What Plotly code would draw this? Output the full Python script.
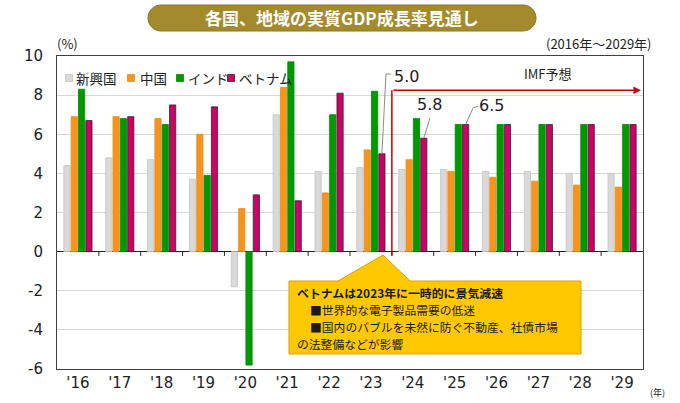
import math
import plotly.graph_objects as go

# ---- data ----
years = ["'16", "'17", "'18", "'19", "'20", "'21", "'22", "'23", "'24", "'25", "'26", "'27", "'28", "'29"]
series_names = ["新興国", "中国", "インド", "ベトナム"]
emerging = [4.4, 4.8, 4.7, 3.7, -1.8, 7.0, 4.1, 4.3, 4.2, 4.2, 4.1, 4.1, 4.0, 4.0]
china = [6.9, 6.9, 6.8, 6.0, 2.2, 8.4, 3.0, 5.2, 4.7, 4.1, 3.8, 3.6, 3.4, 3.3]
india = [8.3, 6.8, 6.5, 3.9, -5.8, 9.7, 7.0, 8.2, 6.8, 6.5, 6.5, 6.5, 6.5, 6.5]
vietnam = [6.7, 6.9, 7.5, 7.4, 2.9, 2.6, 8.1, 5.0, 5.8, 6.5, 6.5, 6.5, 6.5, 6.5]
y_ticks = [10, 8, 6, 4, 2, 0, -2, -4, -6]
labelled_points = [(7, "5.0"), (8, "5.8"), (9, "6.5")]   # (year index, label) for Vietnam
forecast_start = 8   # index of first IMF forecast year
callout_lines = ["ベトナムは2023年に一時的に景気減速",
                 "■世界的な電子製品需要の低迷",
                 "■国内のバブルを未然に防ぐ不動産、社債市場",
                 "の法整備などが影響"]

colors = ["#d9d9d9", "#f7941d", "#009a00", "#cc0066"]
lines = ["#c4c4c4", "#f08a10", "#008800", "#2a2a2a"]
series = [emerging, china, india, vietnam]

# ---- plot area geometry (pixels) ----
L, R, T, B = 57, 643, 56, 369
W, H = R - L, B - T


def px(x):
    return (x - L) / W


def py(y):
    return (B - y) / H


JP = "Noto Sans CJK JP"
NUM = "DejaVu Sans, Noto Sans CJK JP"

xs = list(range(len(years)))
fig = go.Figure()
for name, vals, c, lc in zip(series_names, series, colors, lines):
    fig.add_trace(go.Bar(x=xs, y=vals, name=name, showlegend=False,
                         marker=dict(color=c, line=dict(color=lc, width=0.8))))

shapes = []
annotations = []

# tick marks on the zero line at category boundaries
for k in range(len(years) - 1):
    shapes.append(dict(type="line", xref="x", yref="y", x0=k + 0.5, x1=k + 0.5, y0=0, y1=-0.22,
                       line=dict(color="#222", width=1)))

# title pill
pts = []
r = 13
cyp = 18
for i in range(21):
    a = math.pi / 2 + math.pi * i / 20
    pts.append((148 + r + r * math.cos(a), cyp - r * math.sin(a)))
for i in range(21):
    a = -math.pi / 2 + math.pi * i / 20
    pts.append((536 - r + r * math.cos(a), cyp - r * math.sin(a)))
path = "M " + " L ".join(f"{px(a):.5f},{py(b):.5f}" for a, b in pts) + " Z"
shapes.append(dict(type="path", xref="paper", yref="paper", path=path,
                   fillcolor="#a38a2c", line=dict(color="#8c7622", width=1), layer="above"))
annotations.append(dict(xref="paper", yref="paper", x=px(342), y=py(18), text="<b>各国、地域の実質GDP成長率見通し</b>",
                        showarrow=False, font=dict(family=JP, size=17, color="white"),
                        xanchor="center", yanchor="middle"))

# custom legend: square centre x, text start x
leg_sq = [69, 131, 180, 231]
leg_tx = [74, 138, 186, 237]
for sx, tx, name, c, lc in zip(leg_sq, leg_tx, series_names, colors, lines):
    shapes.append(dict(type="rect", xref="paper", yref="paper", x0=px(sx - 3.5), x1=px(sx + 3.5),
                       y0=py(81.5), y1=py(74.5), fillcolor=c, line=dict(color=lc, width=0.8)))
    annotations.append(dict(xref="paper", yref="paper", x=px(tx), y=py(78), xanchor="left", yanchor="middle",
                            showarrow=False, text=name, font=dict(family=JP, size=13.5, color="#222")))

# axis notes
annotations.append(dict(xref="paper", yref="paper", x=px(67), y=py(44), text="(%)", showarrow=False,
                        font=dict(family=JP, size=13, color="#222"), xanchor="center", yanchor="middle"))
annotations.append(dict(xref="paper", yref="paper", x=px(654), y=py(44), text="(2016年～2029年)", showarrow=False,
                        font=dict(family=JP, size=13, color="#222"), xanchor="right", yanchor="middle"))
annotations.append(dict(xref="paper", yref="paper", x=px(657), y=py(392), text="(年)", showarrow=False,
                        font=dict(family=JP, size=9, color="#222"), xanchor="center", yanchor="middle"))

# IMF forecast arrow
xb = forecast_start - 0.5
yh = 8.25
shapes.append(dict(type="line", xref="x", yref="y", x0=xb, x1=xb, y0=-0.2, y1=yh,
                   line=dict(color="#cc0000", width=1.5)))
annotations.append(dict(xref="x", yref="y", x=13.45, y=yh, ax=xb, ay=yh, axref="x", ayref="y",
                        showarrow=True, arrowhead=2, arrowsize=1, arrowwidth=1.5, arrowcolor="#cc0000", text=""))
annotations.append(dict(xref="paper", yref="paper", x=px(548), y=py(73), text="IMF予想", showarrow=False,
                        font=dict(family=JP, size=13, color="#222"), xanchor="center", yanchor="middle"))

# value labels with leader lines (Vietnam)
off = 0.2625
label_pos = {7: ((7.36, 9.08), (7.48, 9.08), (7.85, 8.93)),
             8: ((8.41, 6.83), (8.41, 6.83), (8.39, 7.50)),
             9: ((9.44, 7.34), (9.56, 7.44), (9.89, 7.45))}
for idx, lab in labelled_points:
    b1, b2, tpos = label_pos[idx]
    shapes.append(dict(type="path", xref="x", yref="y",
                       path=f"M {idx + off},{vietnam[idx]} L {b1[0]},{b1[1]} L {b2[0]},{b2[1]}",
                       line=dict(color="#8c8c8c", width=1)))
    annotations.append(dict(xref="x", yref="y", x=tpos[0], y=tpos[1], text=lab, showarrow=False,
                            font=dict(family=NUM, size=16, color="#222"), xanchor="center", yanchor="middle"))

# callout box
cpts = [(289, 281), (338, 281), (383, 255), (410, 281), (581, 281), (581, 354), (289, 354)]
cpath = "M " + " L ".join(f"{px(a):.5f},{py(b):.5f}" for a, b in cpts) + " Z"
shapes.append(dict(type="path", xref="paper", yref="paper", path=cpath,
                   fillcolor="#ffc800", line=dict(color="#d4a400", width=1), layer="above"))
line_y = [292, 309.3, 326.5, 343.7]
line_x = [295, 308, 308, 295]
for i, (txt, lx, ly) in enumerate(zip(callout_lines, line_x, line_y)):
    annotations.append(dict(xref="paper", yref="paper", x=px(lx), y=py(ly), xanchor="left", yanchor="middle",
                            align="left", showarrow=False,
                            text=f"<b>{txt}</b>" if i == 0 else txt,
                            font=dict(family=JP, size=11.9 if i == 0 else 11.8, color="#1a1a1a")))

fig.update_layout(
    width=680, height=403,
    margin=dict(l=L, r=680 - R, t=T, b=403 - B, autoexpand=False),
    paper_bgcolor="white", plot_bgcolor="white",
    barmode="group", bargap=0.3, bargroupgap=0.15,
    shapes=shapes, annotations=annotations,
    xaxis=dict(range=[-0.5, len(years) - 0.5], tickvals=xs, ticktext=years, showgrid=False,
               showline=True, mirror=True, linecolor="#404040", linewidth=1, ticks="",
               tickfont=dict(family=NUM, size=15, color="#222"), zeroline=False, fixedrange=True),
    yaxis=dict(range=[-6, 10], tickvals=y_ticks, ticktext=[str(v) for v in y_ticks], showgrid=True,
               gridcolor="#d9d9d9", gridwidth=1, zeroline=True, zerolinecolor="#222", zerolinewidth=1,
               showline=True, mirror=True, linecolor="#404040", linewidth=1, ticks="",
               ticklabelstandoff=10,
               tickfont=dict(family=NUM, size=15, color="#222"), fixedrange=True),
)

fig.write_html("out.html", config={"displayModeBar": False},
               post_script="document.body.style.margin='0';")
